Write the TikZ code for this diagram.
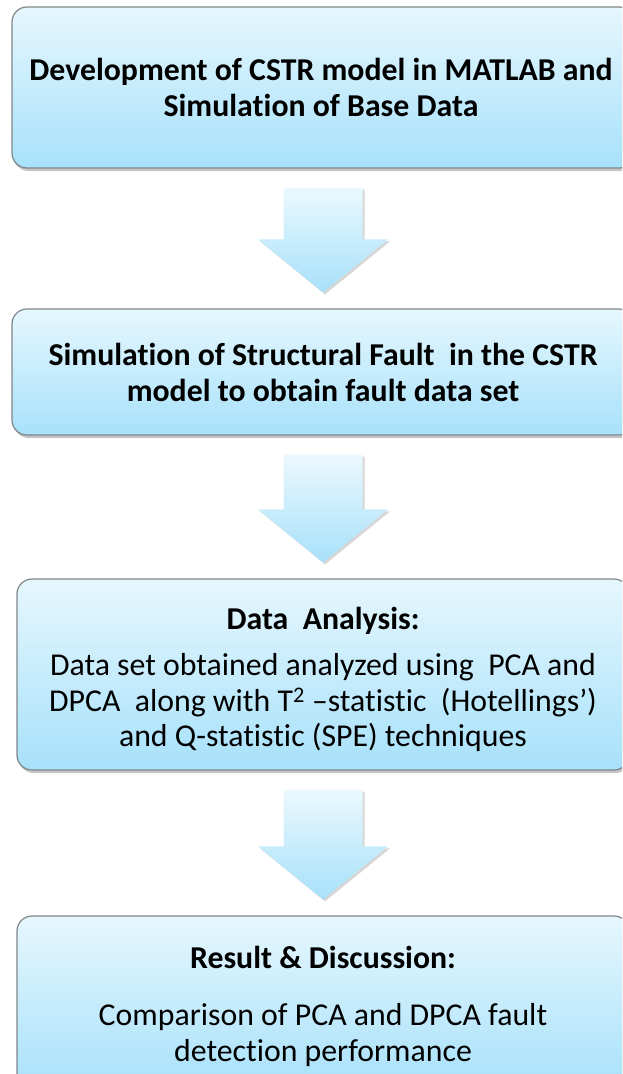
\documentclass[tikz,border=0pt]{standalone}
\usepackage{fontspec}
\setmainfont[Ligatures=NoCommon]{Carlito}
\usetikzlibrary{calc,shadows}

\definecolor{boxtop}{HTML}{E6F7FE}
\definecolor{boxbot}{HTML}{A7E1FA}
\definecolor{boxline}{HTML}{7F8689}

\tikzset{
  stepbox/.style={draw=boxline, line width=1.2pt, rounded corners=15pt,
    top color=boxtop, bottom color=boxbot,
    drop shadow={shadow xshift=1.5pt, shadow yshift=-3pt, fill=black!45, opacity=0.5},
    inner sep=0pt},
  arrowfill/.style={top color=boxtop!80!white, bottom color=boxbot,
    drop shadow={shadow xshift=2pt, shadow yshift=-2pt, fill=black!40, opacity=0.4}},
  headfont/.style={font=\fontsize{31.8}{36}\selectfont\bfseries, align=center, inner sep=0pt},
  bodyfont/.style={font=\fontsize{31.8}{35.5}\selectfont, align=center, inner sep=0pt}
}

\begin{document}
\begin{tikzpicture}[x=1pt,y=-1pt]
		\useasboundingbox (0,0) rectangle (622,1074);
		\clip (0,0) rectangle (622,1074);
		
		\newcommand{\blockarrow}[2]{ % #1: upper box, #2: lower box
			\path[arrowfill] let \p1=(#1.south), \p2=(#2.north) in
				(\x1-39.5pt,\y1-19pt) -- (\x1+39.5pt,\y1-19pt) -- (\x1+39.5pt,\y2+69pt)
				-- (\x1+65pt,\y2+69pt) -- (\x1,\y2+16pt) -- (\x1-65pt,\y2+69pt)
				-- (\x1-39.5pt,\y2+69pt) -- cycle;
		}
		
		%process boxes
		\node[stepbox, minimum width=622pt, minimum height=161pt] (model) at (323,87.5) {};
		\node[stepbox, minimum width=622pt, minimum height=126pt] (fault) at (323,372) {};
		\node[stepbox, minimum width=612pt, minimum height=191pt] (analysis) at (323,674.5) {};
		\node[stepbox, minimum width=612pt, minimum height=174pt] (result) at (323,1003) {};
		
		%box texts
		\node[headfont] (modeltext) at ([xshift=-2pt]model.center)
			{Development of CSTR model in MATLAB and\\Simulation of Base Data};
		\node[headfont] (faulttext) at (fault.center)
			{Simulation of Structural Fault~ in the CSTR\\model to obtain fault data set};
		\node[bodyfont] (analysistext) at ([yshift=-5pt]analysis.center)
			{\textbf{Data~ Analysis:}\\[11pt]Data set obtained analyzed using~ PCA and\\DPCA~ along with T\textsuperscript{2} –statistic~ (Hotellings’)\\and Q-statistic (SPE) techniques};
		\node[bodyfont] (resulttext) at ([yshift=-3pt]result.center)
			{\textbf{Result \& Discussion:}\\[22pt]Comparison of PCA and DPCA fault\\detection performance};
		
		%block arrows between the boxes
		\blockarrow{model}{fault}
		\blockarrow{fault}{analysis}
		\blockarrow{analysis}{result}
		
	\end{tikzpicture}
\end{document}
